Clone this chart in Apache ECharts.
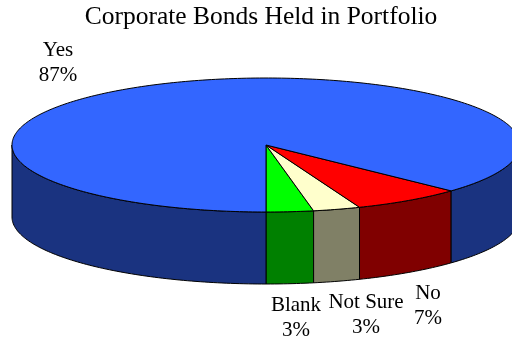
<!DOCTYPE html>
<html>
<head>
<meta charset="utf-8">
<script src="https://cdn.jsdelivr.net/npm/echarts@6/dist/echarts.min.js"></script>
<style>
  html, body { margin: 0; padding: 0; background: #fff; }
  #chart { width: 512px; height: 343px; }
</style>
</head>
<body>
<div id="chart"></div>
<script>
// Answers, in drawing order starting from the front of the pie
const categories = ['Blank', 'Not Sure', 'No', 'Yes'];
const shares = [3, 3, 7, 87];
const topColors = ['#00FF00', '#FFFFCC', '#FF0000', '#3366FF'];
const sideColors = ['#008000', '#808066', '#800000', '#1A3380'];
// Label block anchor: [centre x, top y]
const labelAnchors = [[296, 293], [366, 290], [428, 281], [58, 38]];

// Tilted-disc geometry (pixels)
const CX = 266, CY = 145, RX = 254, RY = 67, DEPTH = 72;
const FONT = "'Liberation Serif', 'Times New Roman', serif";

const total = shares.reduce((a, b) => a + b, 0);
// Slice angular ranges (degrees, screen coords with y down); start facing the viewer and sweep to the right
const ranges = [];
(function () {
  let end = 90;
  shares.forEach(v => {
    const start = end - v / total * 360;
    ranges.push([start, end]);
    end = start;
  });
})();

function pt(tDeg, dy) {
  const t = tDeg * Math.PI / 180;
  return [CX + RX * Math.cos(t), CY + RY * Math.sin(t) + (dy || 0)];
}

function arcPoints(a, b, dy) {
  const pts = [];
  const n = Math.max(2, Math.ceil(Math.abs(b - a)));
  for (let i = 0; i <= n; i++) pts.push(pt(a + (b - a) * i / n, dy));
  return pts;
}

// Parts of a slice range that face the viewer (front half of the rim)
function frontParts(lo, hi) {
  const parts = [];
  for (let k = -2; k <= 1; k++) {
    const a = Math.max(lo, k * 360), b = Math.min(hi, k * 360 + 180);
    if (b > a) parts.push([a - k * 360, b - k * 360]);
  }
  return parts;
}

function renderWall(params, api) {
  const i = params.dataIndex;
  const [lo, hi] = ranges[i];
  const children = frontParts(lo, hi).map(([a, b]) => {
    const top = arcPoints(a, b, 0);
    const bottom = arcPoints(b, a, DEPTH);
    return {
      type: 'polygon',
      shape: { points: top.concat(bottom) },
      style: { fill: sideColors[i], stroke: '#000', lineWidth: 1 }
    };
  });
  return { type: 'group', children };
}

function renderTop(params, api) {
  const i = params.dataIndex;
  const [lo, hi] = ranges[i];
  const pts = [[CX, CY]].concat(arcPoints(lo, hi, 0));
  const value = api.value(0);
  const [lx, ly] = labelAnchors[i];
  return {
    type: 'group',
    children: [
      {
        type: 'polygon',
        shape: { points: pts },
        style: { fill: topColors[i], stroke: '#000', lineWidth: 1, lineJoin: 'round' }
      },
      {
        type: 'text',
        x: lx, y: ly,
        style: {
          text: categories[i] + '\n' + value + '%',
          fill: '#000',
          font: '21px ' + FONT,
          lineHeight: 25,
          align: 'center',
          verticalAlign: 'top'
        }
      }
    ]
  };
}

const chart = echarts.init(document.getElementById('chart'), null, { renderer: 'canvas' });
chart.setOption({
  animation: false,
  backgroundColor: '#fff',
  title: {
    text: 'Corporate Bonds Held in Portfolio',
    left: 256,
    textAlign: 'center',
    top: -1,
    textStyle: { fontFamily: FONT, fontSize: 25.5, fontWeight: 'normal', color: '#000' }
  },
  series: [
    {
      type: 'custom',
      coordinateSystem: 'none',
      z: 1,
      data: shares.map(v => [v]),
      renderItem: renderWall
    },
    {
      type: 'custom',
      coordinateSystem: 'none',
      z: 2,
      data: shares.map(v => [v]),
      renderItem: renderTop
    }
  ]
});
</script>
</body>
</html>
